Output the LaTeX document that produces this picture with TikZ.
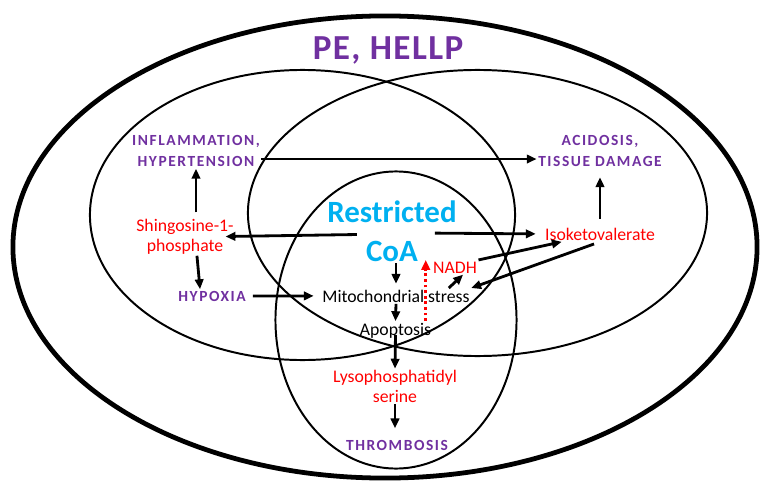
\documentclass[tikz,border=0pt]{standalone}
\usepackage{fontspec}
\setmainfont{Carlito}
\newfontfamily\spacedfont[LetterSpace=10]{Carlito}
\newfontfamily\titlefont[LetterSpace=4]{Carlito}
\usetikzlibrary{arrows.meta}
\definecolor{dpurple}{HTML}{7030A0}
\definecolor{skyblue}{HTML}{00B0F0}

\begin{document}
\begin{tikzpicture}[x=0.025cm, y=-0.025cm,
  ring/.style={line width=1.4pt},
  arr/.style={line width=2pt, -{Triangle[length=7pt,width=6pt]}},
  effect/.style={text=dpurple, inner sep=1pt, align=center, font=\spacedfont\bfseries\fontsize{11}{15.6}\selectfont},
  metab/.style={text=red, inner sep=1pt, align=center, font=\fontsize{12.6}{14.2}\selectfont},
  event/.style={inner sep=1pt, font=\fontsize{12.6}{14.2}\selectfont}]
\useasboundingbox (0,0) rectangle (772,493);

% sets
\draw[line width=3.4pt] (385,247) ellipse [x radius=9.3cm, y radius=5.775cm];
\draw[ring] (302.5,215) ellipse [x radius=5.3125cm, y radius=3.625cm];
\draw[ring] (477.5,213) ellipse [x radius=5.7375cm, y radius=3.575cm];
\draw[ring] (396,320) ellipse [x radius=3.0125cm, y radius=3.7125cm];

% labels
\node[anchor=base, text=dpurple, font=\titlefont\bfseries\fontsize{25}{30}\selectfont] (pe) at (388,60) {PE, HELLP};
\node[effect] (infl) at (196,151) {INFLAMMATION,\\HYPERTENSION};
\node[effect] (acid) at (600,151) {ACIDOSIS,\\TISSUE DAMAGE};
\node[metab] (shing) at (185,236.5) {Shingosine-1-\\phosphate};
\node[effect, anchor=base] (hyp) at (212,301) {HYPOXIA};
\node[text=skyblue, inner sep=1pt, align=center, font=\bfseries\fontsize{22}{27.7}\selectfont] (coa) at (392,231) {Restricted\\CoA};
\node[metab, anchor=base] (iso) at (600,240) {Isoketovalerate};
\node[metab, anchor=base] (nadh) at (455,273) {NADH};
\node[event, anchor=base] (mito) at (396,302) {Mitochondrial stress};
\node[event, anchor=base] (apop) at (395.5,335) {Apoptosis};
\node[metab] (lyso) at (395,386.5) {Lysophosphatidyl\\serine};
\node[effect, anchor=base] (thromb) at (397,450) {THROMBOSIS};

% links
\draw[arr] ([yshift=-5.7pt]infl.east) -- ([yshift=-5.7pt]acid.west);
\draw[arr, shorten <=3.5pt] (infl.south |- shing.north) -- (infl.south);
\draw[arr] ([xshift=-25pt,yshift=-2.5pt]coa.center) -- ([xshift=-7pt]shing.east);
\draw[arr] ([xshift=8.5pt]shing.south) -- ([xshift=-8.5pt]hyp.north);
\draw[arr, shorten <=4pt, shorten >=5pt] (hyp.east) -- (mito.west);
\draw[arr] ([xshift=30.5pt,yshift=-1.5pt]coa.center) -- ([xshift=-5.5pt]iso.west);
\draw[arr, shorten <=5pt, shorten >=6pt] (iso.north) -- (acid.south);
\draw[arr] (nadh.north east) -- ([xshift=13pt]iso.south west);
\draw[arr, shorten <=4.5pt] (iso.south) -- (mito.north east);
\draw[arr] ([xshift=-16pt]mito.north east) -- ([xshift=5.7pt]nadh.south);
\draw[arr, shorten >=3pt] (mito.north |- coa.south) -- (mito.north);
\draw[arr] (mito.south) -- (apop.north);
\draw[arr] (apop.base) -- (lyso.north);
\draw[arr, shorten >=7pt] (lyso.south) -- (lyso.south |- thromb.north);
\coordinate (up) at ([xshift=-5pt]apop.north east);
\draw[arr, red, dash pattern=on 2pt off 2pt] (up) -- (up |- nadh.north);
\end{tikzpicture}
\end{document}
